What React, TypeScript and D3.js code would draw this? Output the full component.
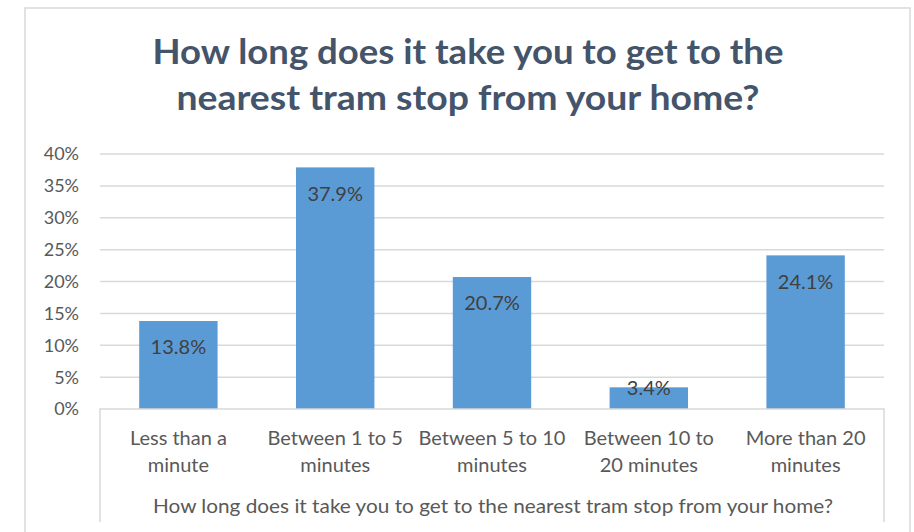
import React from "react";
import * as d3 from "d3";

const categories: string[][] = [
  ["Less than a", "minute"],
  ["Between 1 to 5", "minutes"],
  ["Between 5 to 10", "minutes"],
  ["Between 10 to", "20 minutes"],
  ["More than 20", "minutes"],
];
const values: number[] = [13.8, 37.9, 20.7, 3.4, 24.1];
const yTicks: number[] = [0, 5, 10, 15, 20, 25, 30, 35, 40];
const titleLines: string[] = [
  "How long does it take you to get to the",
  "nearest tram stop from your home?",
];
const titleWidths: number[] = [631, 583];
const axisTitle = "How long does it take you to get to the nearest tram stop from your home?";

const W = 914;
const H = 532;
const plot = { left: 100, right: 884, top: 154, bottom: 409 };
const FONT = "Lato, 'Open Sans', sans-serif";

export default function App() {
  const x = d3
    .scaleBand<number>()
    .domain(d3.range(values.length))
    .range([plot.left, plot.right])
    .paddingInner(0.5)
    .paddingOuter(0.25);
  const y = d3.scaleLinear().domain([0, 40]).range([plot.bottom, plot.top]);
  const catX = d3
    .scaleBand<number>()
    .domain(d3.range(values.length))
    .range([plot.left, plot.right]);

  return (
    <svg
      width={W}
      height={H}
      style={{ position: "absolute", left: 0, top: 0, background: "#fff" }}
      fontFamily={FONT}
    >
      <rect x={0} y={0} width={W} height={H} fill="#fff" />
      {/* outer chart border */}
      <path d={`M25,${H + 2} V8 H910 V${H + 2}`} fill="none" stroke="#D9D9D9" strokeWidth={1.5} />

      {/* title */}
      {titleLines.map((t, i) => (
        <text
          key={i}
          x={468}
          y={64 + i * 46}
          textAnchor="middle"
          fontSize={34}
          fontWeight={700}
          fill="#44546A"
          textLength={titleWidths[i]}
          lengthAdjust="spacingAndGlyphs"
        >
          {t}
        </text>
      ))}

      {/* gridlines */}
      {yTicks.map((t) =>
        t === 0 ? null : (
          <line
            key={t}
            x1={plot.left}
            x2={plot.right}
            y1={y(t)}
            y2={y(t)}
            stroke="#D9D9D9"
            strokeWidth={1.5}
          />
        )
      )}
      {/* y tick labels */}
      {yTicks.map((t) => (
        <text
          key={"l" + t}
          x={79}
          y={y(t)}
          dy="0.36em"
          textAnchor="end"
          fontSize={18}
          fill="#595959"
        >
          {t + "%"}
        </text>
      ))}

      {/* bars */}
      {values.map((v, i) => (
        <rect
          key={"b" + i}
          x={x(i)}
          y={y(v)}
          width={x.bandwidth()}
          height={y(0) - y(v)}
          fill="#5B9BD5"
        />
      ))}

      {/* category axis box */}
      <path
        d={`M${plot.left},522 V${plot.bottom} H${plot.right} V522`}
        fill="none"
        stroke="#D9D9D9"
        strokeWidth={1.5}
      />

      {/* data labels */}
      {values.map((v, i) => {
        const top = y(v);
        const h = y(0) - top;
        const cy = h > 40 ? top + 26 : top;
        return (
          <text
            key={"d" + i}
            x={(x(i) as number) + x.bandwidth() / 2}
            y={cy}
            dy="0.36em"
            textAnchor="middle"
            fontSize={20}
            fill="#404040"
          >
            {v.toFixed(1) + "%"}
          </text>
        );
      })}

      {/* category labels */}
      {categories.map((lines, i) =>
        lines.map((l, j) => (
          <text
            key={"c" + i + "-" + j}
            x={(catX(i) as number) + catX.bandwidth() / 2}
            y={445 + j * 27}
            textAnchor="middle"
            fontSize={20}
            fill="#595959"
          >
            {l}
          </text>
        ))
      )}

      {/* axis title */}
      <text
        x={493}
        y={513}
        textAnchor="middle"
        fontSize={20}
        fill="#595959"
        textLength={680}
        lengthAdjust="spacingAndGlyphs"
      >
        {axisTitle}
      </text>
    </svg>
  );
}
